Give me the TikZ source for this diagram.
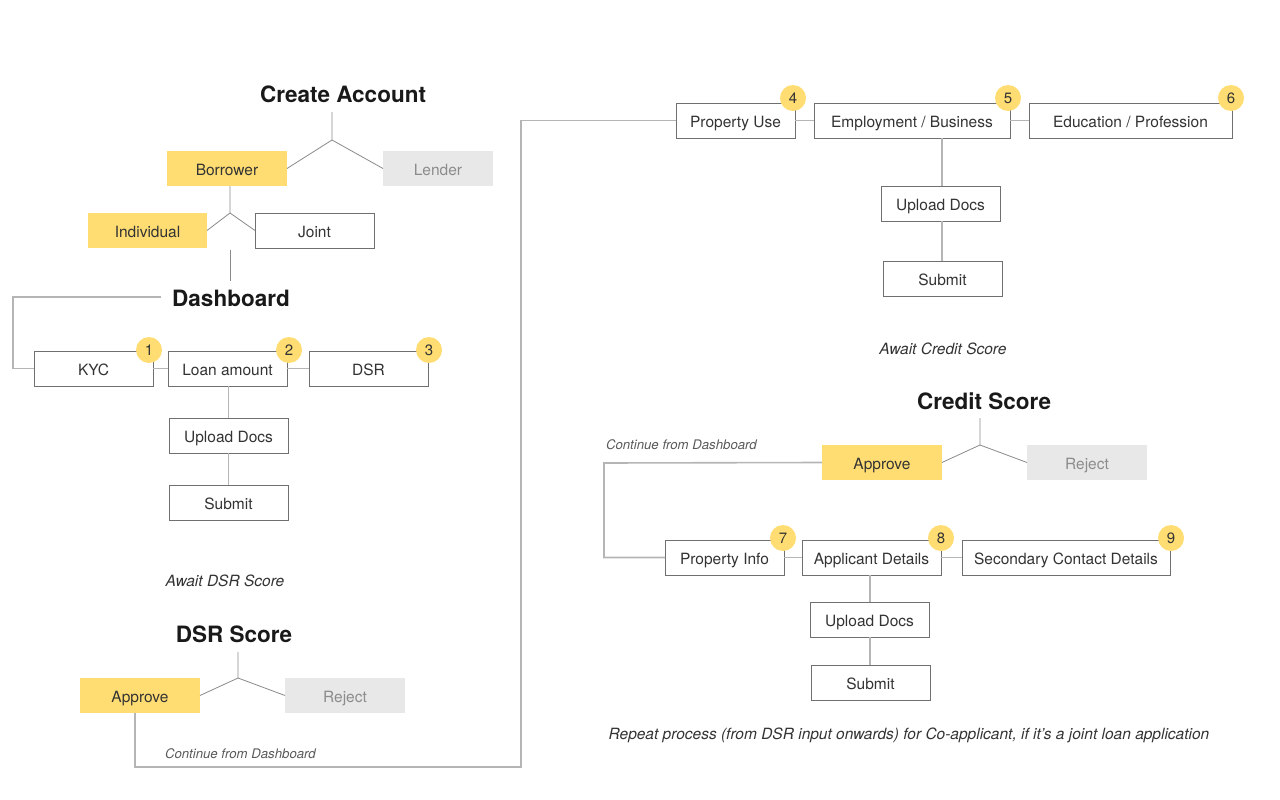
\documentclass[tikz,border=0pt]{standalone}
\usepackage{fontspec}
\setmainfont{TeX Gyre Heros}
\definecolor{yel}{HTML}{FFDD73}
\definecolor{lgray}{HTML}{E8E8E8}
\definecolor{bord}{HTML}{707070}
\definecolor{conn}{HTML}{B5B5B5}
\definecolor{brn}{HTML}{8A8A8A}
\definecolor{txt}{HTML}{333333}
\definecolor{muted}{HTML}{8C8C8C}
\begin{document}
\begin{tikzpicture}[x=1pt,y=-1pt,
  every node/.style={inner sep=0pt, outer sep=0pt, text=txt},
  base/.style={minimum height=35pt, text height=16pt, text depth=3pt, font=\fontsize{15.5}{18}\selectfont},
  wbox/.style={base, draw=bord, line width=0.8pt, fill=white},
  ybox/.style={base, fill=yel},
  gbox/.style={base, fill=lgray, text=muted},
  title/.style={font=\fontsize{22.5}{26}\selectfont\bfseries, text=black!90},
  note/.style={font=\fontsize{15.5}{18}\selectfont\itshape},
  smallnote/.style={font=\fontsize{13.2}{16}\selectfont\itshape, text=black!65},
  badge/.style={circle, fill=yel, minimum size=26pt, font=\fontsize{15}{18}\selectfont},
  conline/.style={draw=conn, line width=1.6pt},
  brline/.style={draw=brn, line width=0.8pt}
]
\useasboundingbox (0,0) rectangle (1280,800);

% ---------- Left column ----------
\node[title] (create) at (343,94) {Create Account};
\node[ybox, minimum width=120pt] (borrower) at (227,168.5) {Borrower};
\node[gbox, minimum width=110pt] (lender) at (438,168.5) {Lender};
\coordinate (j1) at (332,140);
\coordinate (j1t) at (332,112);
\draw[brline] (j1t) -- (j1) -- (borrower.east);
\draw[brline] (j1) -- (lender.west);

\node[ybox, minimum width=119pt] (individual) at (147.5,230.5) {Individual};
\node[wbox, minimum width=119pt] (joint) at (314.5,230.5) {Joint};
\coordinate (j2) at (230,213);
\draw[brline] (borrower.south -| j2) -- (j2) -- (individual.east);
\draw[brline] (j2) -- (joint.west);

\node[title] (dash) at (231,298) {Dashboard};
\coordinate (d1) at (230,250);
\draw[brline] (d1) -- (230,281);

\node[wbox, minimum width=119pt] (kyc) at (93.5,368.5) {KYC};
\node[wbox, minimum width=119pt] (loan) at (227.5,368.5) {Loan amount};
\node[wbox, minimum width=119pt] (dsr) at (368.5,368.5) {DSR};
\node[badge] (b1) at (149,350) {1};
\node[badge] (b2) at (289,350) {2};
\node[badge] (b3) at (429,350) {3};
\coordinate (dl) at (161,297);
\coordinate (dc) at (13,297);
\draw[conline] (dl) -- (dc) |- (kyc.west);
\draw[conline] (kyc.east) -- (loan.west);
\draw[conline] (loan.east) -- (dsr.west);

\node[wbox, minimum width=119pt] (up1) at (228.5,435.5) {Upload Docs};
\node[wbox, minimum width=119pt] (sub1) at (228.5,502.5) {Submit};
\draw[conline] (loan.south -| up1) -- (up1.north);
\draw[conline] (up1.south) -- (sub1.north);

\node[note] (await1) at (225,581) {Await DSR Score};
\node[title] (dsrscore) at (234,634) {DSR Score};
\node[ybox, minimum width=120pt] (app1) at (140,695.5) {Approve};
\node[gbox, minimum width=120pt] (rej1) at (345,695.5) {Reject};
\coordinate (j3) at (238,678);
\coordinate (j3t) at (238,652);
\draw[brline] (j3t) -- (j3) -- (app1.east);
\draw[brline] (j3) -- (rej1.west);

\node[smallnote, anchor=west] (cont1) at (165,754) {Continue from Dashboard};

% ---------- Right top ----------
\node[wbox, minimum width=119pt] (puse) at (735.5,120.5) {Property Use};
\node[wbox, minimum width=196pt] (emp) at (912,120.5) {Employment / Business};
\node[wbox, minimum width=203pt] (edu) at (1130.5,120.5) {Education / Profession};
\node[badge] (b4) at (793,98) {4};
\node[badge] (b5) at (1008,98) {5};
\node[badge] (b6) at (1231,98) {6};
\draw[conline] (puse.east) -- (emp.west);
\draw[conline] (emp.east) -- (edu.west);

\coordinate (c1) at (135,767);
\coordinate (c2) at (521,767);
\draw[conline] (app1.south -| c1) -- (c1) -- (c2) |- (puse.west);

\node[wbox, minimum width=119pt] (up2) at (940.5,203.5) {Upload Docs};
\node[wbox, minimum width=119pt] (sub2) at (942.5,278.5) {Submit};
\coordinate (e1) at (942,138);
\draw[conline] (e1) -- (up2.north -| e1);
\draw[conline] (up2.south -| e1) -- (sub2.north -| e1);

\node[note] (await2) at (943,349) {Await Credit Score};

% ---------- Right bottom ----------
\node[title] (credit) at (984,401) {Credit Score};
\node[ybox, minimum width=120pt] (app2) at (882,462.5) {Approve};
\node[gbox, minimum width=120pt] (rej2) at (1087,462.5) {Reject};
\coordinate (j4) at (980,445);
\coordinate (j4t) at (980,418);
\draw[brline] (j4t) -- (j4) -- (app2.east);
\draw[brline] (j4) -- (rej2.west);

\node[smallnote, anchor=west] (cont2) at (606,445) {Continue from Dashboard};

\node[wbox, minimum width=119pt] (pinfo) at (724.5,557.5) {Property Info};
\node[wbox, minimum width=139pt] (appl) at (871.5,557.5) {Applicant Details};
\node[wbox, minimum width=208pt] (sec) at (1066,557.5) {Secondary Contact Details};
\node[badge] (b7) at (783,538) {7};
\node[badge] (b8) at (941,538) {8};
\node[badge] (b9) at (1171,538) {9};
\coordinate (k1) at (604,463);
\draw[conline] (app2.west) -- (k1) |- (pinfo.west);
\draw[conline] (pinfo.east) -- (appl.west);
\draw[conline] (appl.east) -- (sec.west);

\node[wbox, minimum width=119pt] (up3) at (869.5,619.5) {Upload Docs};
\node[wbox, minimum width=119pt] (sub3) at (870.5,682.5) {Submit};
\coordinate (a1) at (870,575);
\draw[conline] (a1) -- (up3.north -| a1);
\draw[conline] (up3.south -| a1) -- (sub3.north -| a1);

\node[note] (repeat) at (909,735) {Repeat process (from DSR input onwards) for Co-applicant, if it’s a joint loan application};
\end{tikzpicture}
\end{document}
